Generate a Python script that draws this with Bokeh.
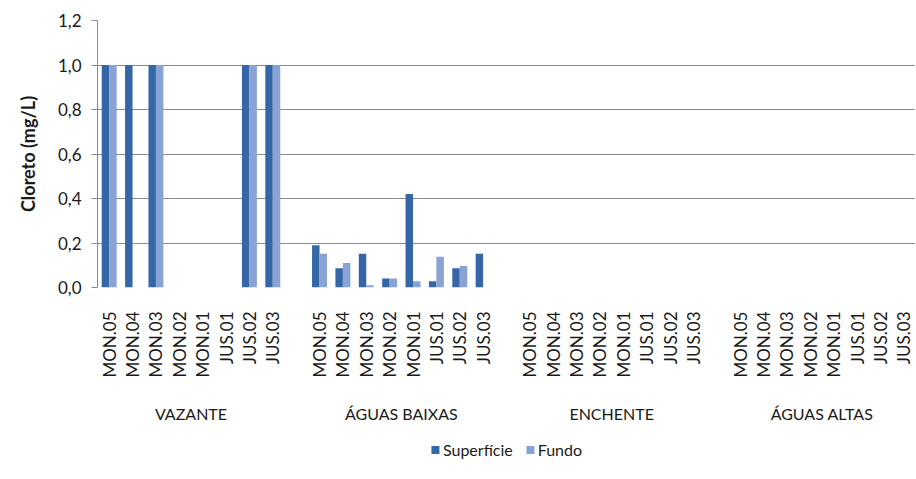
import math
from bokeh.plotting import figure
from bokeh.layouts import column
from bokeh.models import (ColumnDataSource, FixedTicker, LinearAxis, Range1d,
                          CustomJSTickFormatter, Legend, LegendItem)
from bokeh.transform import dodge
from bokeh.embed import file_html
from bokeh.resources import INLINE

# ---- data ----
groups = ["VAZANTE", "ÁGUAS BAIXAS", "ENCHENTE", "ÁGUAS ALTAS"]
stations = ["MON.05", "MON.04", "MON.03", "MON.02", "MON.01", "JUS.01", "JUS.02", "JUS.03"]
superficie = {
    "VAZANTE":      [1.0, 1.0, 1.0, 0, 0, 0, 1.0, 1.0],
    "ÁGUAS BAIXAS": [0.19, 0.087, 0.152, 0.041, 0.42, 0.028, 0.087, 0.152],
    "ENCHENTE":     [0, 0, 0, 0, 0, 0, 0, 0],
    "ÁGUAS ALTAS":  [0, 0, 0, 0, 0, 0, 0, 0],
}
fundo = {
    "VAZANTE":      [1.0, 0, 1.0, 0, 0, 0, 1.0, 1.0],
    "ÁGUAS BAIXAS": [0.152, 0.11, 0.01, 0.041, 0.028, 0.138, 0.097, 0],
    "ENCHENTE":     [0, 0, 0, 0, 0, 0, 0, 0],
    "ÁGUAS ALTAS":  [0, 0, 0, 0, 0, 0, 0, 0],
}
series_names = ["Superfície", "Fundo"]
y_ticks = [0.0, 0.2, 0.4, 0.6, 0.8, 1.0, 1.2]

FONT = "Lato"
C_SUP = "#3566A8"
C_FUN = "#88A3D4"
GRID = "#8a8a8a"
TXT = "#1a1a1a"

n = len(stations)
xs, sup_vals, fun_vals, labels = [], [], [], {}
for gi, g in enumerate(groups):
    for si, s in enumerate(stations):
        x = gi * (n + 1) + si
        xs.append(x)
        labels[x] = s
        sup_vals.append(superficie[g][si])
        fun_vals.append(fundo[g][si])
group_centers = [gi * (n + 1) + (n - 1) / 2 for gi in range(len(groups))]

src = ColumnDataSource(dict(x=xs, sup=sup_vals, fun=fun_vals))

p = figure(frame_width=818, frame_height=267, output_backend="svg", toolbar_location=None,
           x_range=Range1d(-0.5, xs[-1] + 0.5), y_range=Range1d(0, 1.2),
           min_border_left=97, min_border_right=0, min_border_top=20,
           min_border_bottom=0, x_axis_type=None)
p.outline_line_color = None

bw = 0.32
p.vbar(x=dodge("x", -bw / 2), top="sup", width=bw, bottom=0, source=src,
       fill_color=C_SUP, line_color=None)
p.vbar(x=dodge("x", bw / 2), top="fun", width=bw, bottom=0, source=src,
       fill_color=C_FUN, line_color=None)

ya = p.yaxis[0]
ya.ticker = FixedTicker(ticks=y_ticks)
ya.formatter = CustomJSTickFormatter(code="return tick.toFixed(1).replace('.', ',');")
ya.axis_line_color = GRID
ya.major_tick_line_color = GRID
ya.major_tick_out = 6
ya.major_tick_in = 0
ya.minor_tick_line_color = None
ya.major_label_text_font = FONT
ya.major_label_text_font_size = "17px"
ya.major_label_text_color = TXT
ya.major_label_standoff = 10
ya.axis_label = "Cloreto (mg/L)"
ya.axis_label_text_font = FONT
ya.axis_label_text_font_size = "18px"
ya.axis_label_text_font_style = "bold"
ya.axis_label_text_color = TXT
ya.axis_label_standoff = 16

p.ygrid.ticker = FixedTicker(ticks=y_ticks)
p.ygrid.grid_line_color = GRID
p.xgrid.visible = False

xa = LinearAxis(ticker=FixedTicker(ticks=xs), major_label_overrides=labels)
xa.major_label_orientation = math.pi / 2
xa.axis_line_color = None
xa.major_tick_line_color = None
xa.minor_tick_line_color = None
xa.major_label_text_font = FONT
xa.major_label_text_font_size = "17px"
xa.major_label_text_color = TXT
xa.major_label_standoff = 18
p.add_layout(xa, "below")

ga = LinearAxis(ticker=FixedTicker(ticks=group_centers),
                major_label_overrides={c: g for c, g in zip(group_centers, groups)})
ga.axis_line_color = None
ga.major_tick_line_color = None
ga.minor_tick_line_color = None
ga.major_label_text_font = FONT
ga.major_label_text_font_size = "16px"
ga.major_label_text_color = TXT
ga.major_label_standoff = 17
p.add_layout(ga, "below")

# legend strip below the chart (swatch glyphs sit outside the visible range)
lf = figure(width=915, height=48, output_backend="svg", toolbar_location=None,
            x_range=Range1d(0, 1), y_range=Range1d(0, 1),
            x_axis_type=None, y_axis_type=None,
            min_border_left=0, min_border_right=0, min_border_top=0, min_border_bottom=0)
lf.outline_line_color = None
lf.xgrid.visible = False
lf.ygrid.visible = False
sw = ColumnDataSource(dict(x=[-10], top=[0]))
l1 = lf.vbar(x="x", top="top", width=1, source=sw, fill_color=C_SUP, line_color=None)
l2 = lf.vbar(x="x", top="top", width=1, source=sw, fill_color=C_FUN, line_color=None)
legend = Legend(items=[LegendItem(label=series_names[0], renderers=[l1]),
                       LegendItem(label=series_names[1], renderers=[l2])],
                orientation="horizontal", location="center",
                border_line_color=None, background_fill_alpha=0,
                glyph_width=10, glyph_height=10, label_text_font=FONT,
                label_text_font_size="16px", label_text_color=TXT,
                padding=1, margin=0, spacing=12, label_standoff=3)
lf.add_layout(legend, "center")

layout = column(p, lf, spacing=0)
open("out.html", "w").write(file_html(layout, INLINE))
